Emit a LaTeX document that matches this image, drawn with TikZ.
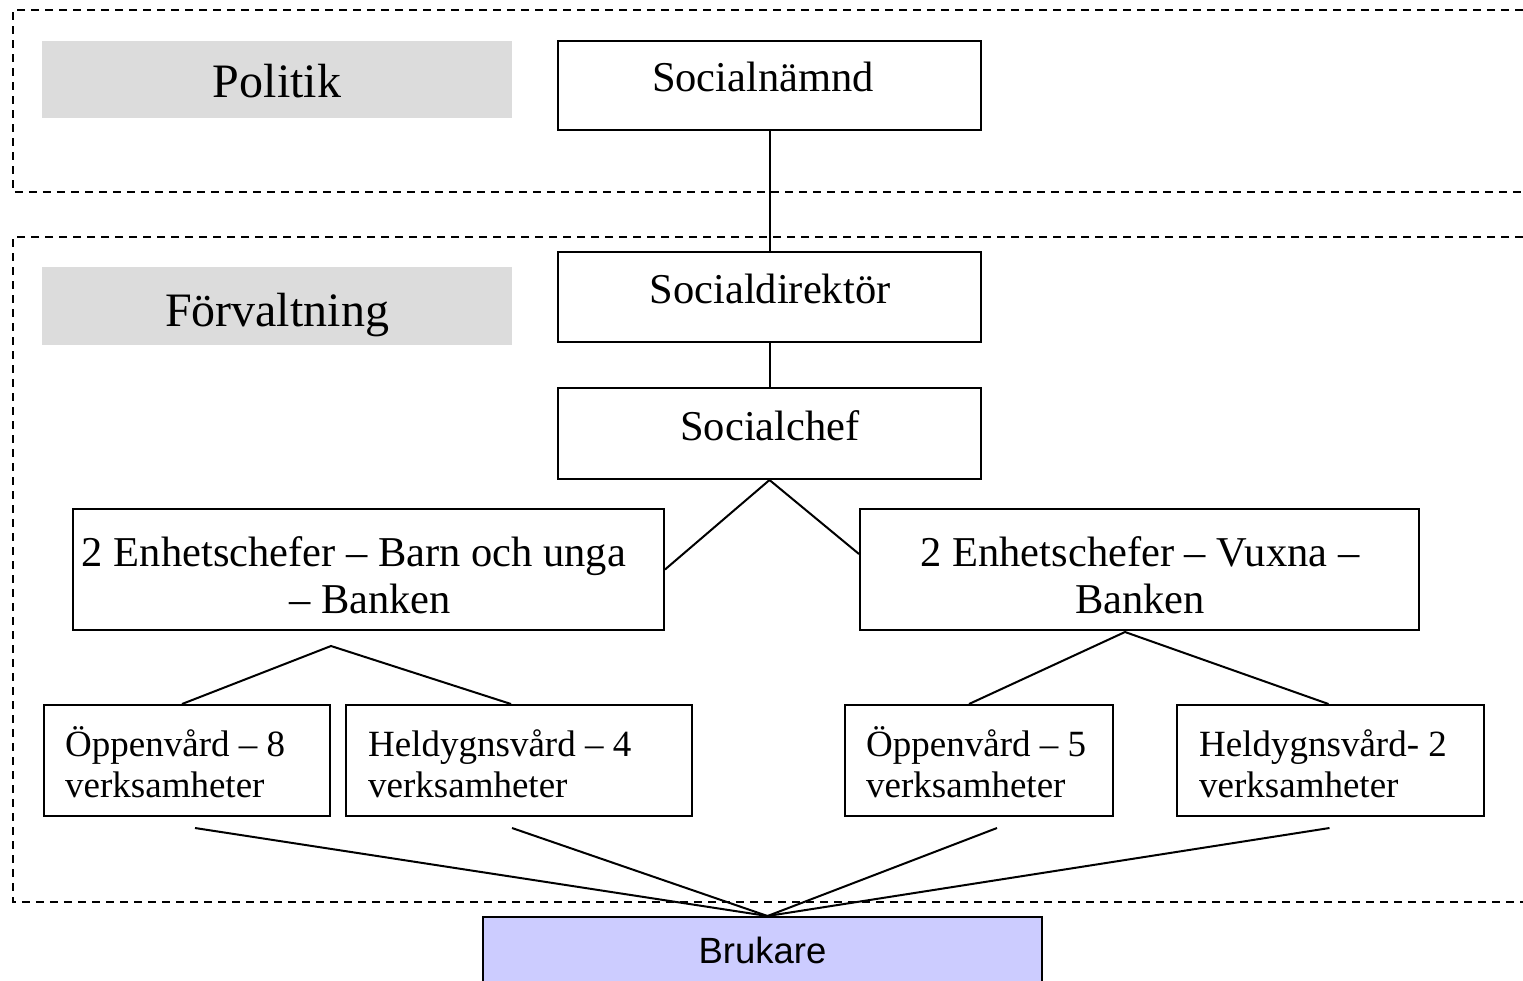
\documentclass[tikz,border=0pt]{standalone}
\usepackage{fontspec}
\setmainfont{Liberation Serif}
\newfontfamily\arialfont{Liberation Sans}
\definecolor{graybg}{RGB}{220,220,220}
\definecolor{brukfill}{RGB}{204,204,255}
\begin{document}
\begin{tikzpicture}[x=1pt,y=-1pt,
  box/.style={draw, line width=2pt, inner sep=0pt, fill=white},
  band/.style={fill=graybg, inner sep=0pt},
  frame/.style={line width=1.9pt, dash pattern=on 8pt off 6pt},
  conn/.style={line width=2pt},
  bigtxt/.style={anchor=base, inner sep=0pt, font=\fontsize{48}{55}\selectfont},
  midtxt/.style={anchor=base, inner sep=0pt, font=\fontsize{42.5}{49}\selectfont},
  smalltxt/.style={anchor=base west, inner sep=0pt, font=\fontsize{37}{42}\selectfont},
  bruktxt/.style={anchor=base, inner sep=0pt, font=\arialfont\fontsize{36.5}{42}\selectfont}]
\useasboundingbox (0,0) rectangle (1523,980);
\fill[white] (0,0) rectangle (1523,980);

% dashed frames (open to the right)
\draw[frame] (1523,10) -- (13,10) -- (13,192) -- (1523,192);
\draw[frame] (1523,237) -- (13,237) -- (13,902) -- (1523,902);

% grey bands
\node[band, minimum width=470pt, minimum height=77pt] (polband) at (277,79.5) {};
\node[band, minimum width=470pt, minimum height=78pt] (forvband) at (277,306) {};
\node[bigtxt] (poltxt) at (277,97) {Politik};
\node[bigtxt] (forvtxt) at (277,326) {Förvaltning};

% boxes
\node[box, minimum width=423pt, minimum height=89pt] (sn) at (769.5,85.5) {};
\node[box, minimum width=423pt, minimum height=90pt] (sd) at (769.5,297) {};
\node[box, minimum width=423pt, minimum height=91pt] (sc) at (769.5,433.5) {};
\node[box, minimum width=591pt, minimum height=121pt] (e1) at (368.5,569.5) {};
\node[box, minimum width=559pt, minimum height=121pt] (e2) at (1139.5,569.5) {};
\node[box, minimum width=286pt, minimum height=111pt] (o1) at (187,760.5) {};
\node[box, minimum width=346pt, minimum height=111pt] (h1) at (519,760.5) {};
\node[box, minimum width=268pt, minimum height=111pt] (o2) at (979,760.5) {};
\node[box, minimum width=307pt, minimum height=111pt] (h2) at (1330.5,760.5) {};
\node[box, fill=brukfill, minimum width=559pt, minimum height=83pt] (br) at (762.5,958.5) {};

% texts
\node[midtxt] (sntxt) at (763,91) {Socialnämnd};
\node[midtxt] (sdtxt) at (770,303) {Socialdirektör};
\node[midtxt] (sctxt) at (770,440) {Socialchef};
\node[midtxt] (e1a) at (354,566) {2 Enhetschefer – Barn och unga};
\node[midtxt] (e1b) at (370,613) {– Banken};
\node[midtxt] (e2a) at (1140,566) {2 Enhetschefer – Vuxna –};
\node[midtxt] (e2b) at (1140,613) {Banken};
\node[smalltxt] (o1a) at (65,756) {Öppenvård – 8};
\node[smalltxt] (o1b) at (65,797) {verksamheter};
\node[smalltxt] (h1a) at (368,756) {Heldygnsvård – 4};
\node[smalltxt] (h1b) at (368,797) {verksamheter};
\node[smalltxt] (o2a) at (866,756) {Öppenvård – 5};
\node[smalltxt] (o2b) at (866,797) {verksamheter};
\node[smalltxt] (h2a) at (1199,756) {Heldygnsvård- 2};
\node[smalltxt] (h2b) at (1199,797) {verksamheter};
\node[bruktxt] (brtxt) at (762.5,963) {Brukare};

% connectors
\coordinate (a1) at (331,646);
\coordinate (a2) at (1125,632);
\draw[conn] (sn.south) -- (sd.north);
\draw[conn] (sd.south) -- (sc.north);
\draw[conn] (e1.east) -- (sc.south) -- ([yshift=15.5pt]e2.west);
\draw[conn] ([xshift=-5pt]o1.north) -- (a1) -- ([xshift=-8pt]h1.north);
\draw[conn] ([xshift=-10pt]o2.north) -- (a2) -- ([xshift=-2pt]h2.north);
\draw[conn] ([shift={(8pt,-11pt)}]o1.south) -- ([xshift=5pt]br.north);
\draw[conn] ([shift={(-7pt,-11pt)}]h1.south) -- ([xshift=5pt]br.north);
\draw[conn] ([shift={(18pt,-11pt)}]o2.south) -- ([xshift=5pt]br.north);
\draw[conn] ([shift={(-1pt,-11pt)}]h2.south) -- ([xshift=5pt]br.north);
\end{tikzpicture}
\end{document}
